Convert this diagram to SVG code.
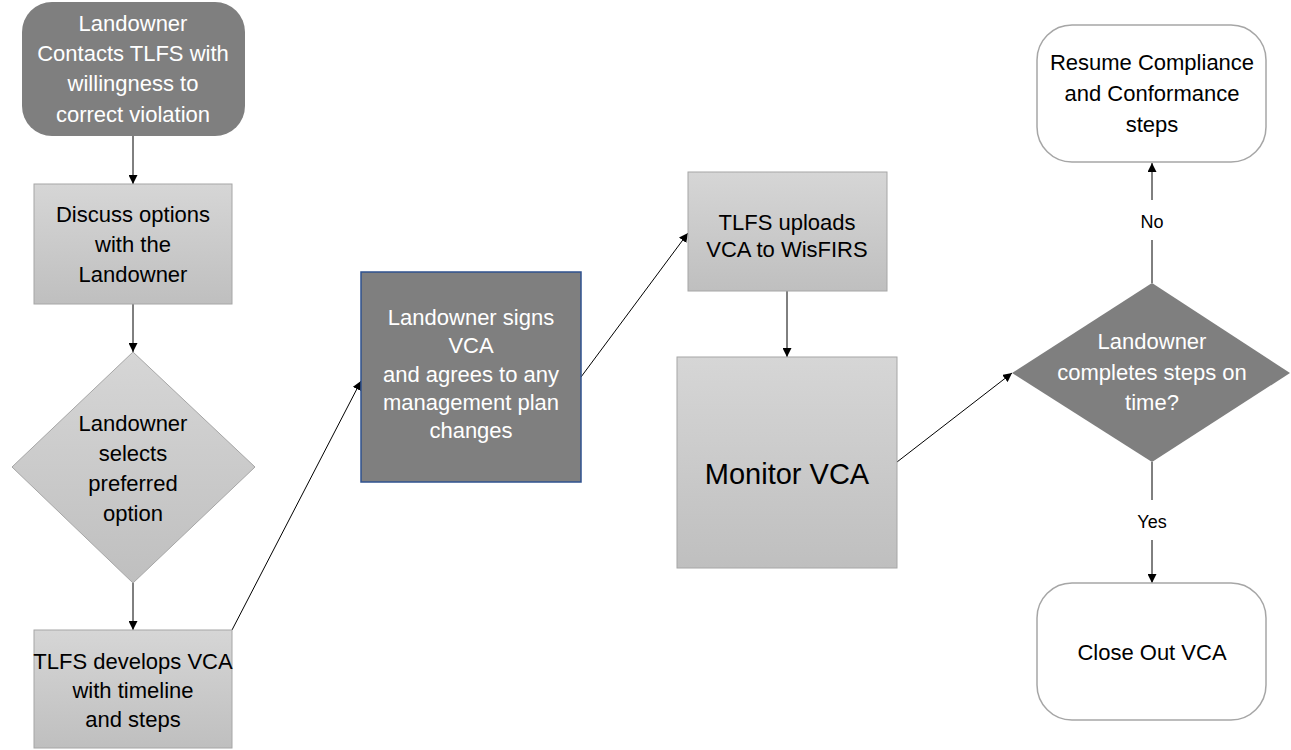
<svg xmlns="http://www.w3.org/2000/svg" width="1291" height="750" viewBox="0 0 1291 750">
<style>
text{font-family:"Liberation Sans",Arial,sans-serif;font-size:22px;text-anchor:middle}
.w{fill:#ffffff}
.k{fill:#000000}
.lite{fill:url(#g);stroke:#a6a6a6;stroke-width:1}
.dark{fill:#7f7f7f}
.outl{fill:#ffffff;stroke:#a6a6a6;stroke-width:1.5}
.c{fill:none;stroke:#000000;stroke-width:1}
.ca{fill:none;stroke:#000000;stroke-width:1;marker-end:url(#ah)}
.lbl{font-size:18px}
</style>
<defs>
<linearGradient id="g" x1="0" y1="0" x2="0" y2="1">
<stop offset="0" stop-color="#d6d6d6"/>
<stop offset="1" stop-color="#bfbfbf"/>
</linearGradient>
<marker id="ah" viewBox="0 0 10 10" refX="10" refY="5" markerWidth="9" markerHeight="9" markerUnits="userSpaceOnUse" orient="auto">
<path d="M0,0 L10,5 L0,10 z" fill="#000000"/>
</marker>
</defs>

<g id="connectors">
<line class="ca" x1="133" y1="136" x2="133" y2="184"/>
<line class="ca" x1="133" y1="304" x2="133" y2="352"/>
<line class="ca" x1="133" y1="583" x2="133" y2="630"/>
<line class="ca" x1="232" y1="630" x2="361" y2="381"/>
<line class="ca" x1="581" y1="377" x2="688" y2="233"/>
<line class="ca" x1="787" y1="291" x2="787" y2="357"/>
<line class="ca" x1="897" y1="462" x2="1012" y2="373"/>
<line class="c" x1="1152" y1="283" x2="1152" y2="240"/>
<line class="ca" x1="1152" y1="200" x2="1152" y2="163"/>
<text class="k lbl" x="1152" y="228">No</text>
<line class="c" x1="1152" y1="462" x2="1152" y2="500"/>
<line class="ca" x1="1152" y1="540" x2="1152" y2="583"/>
<text class="k lbl" x="1152" y="528">Yes</text>
</g>

<g id="n1">
<rect class="dark" x="22" y="2" width="223" height="134" rx="30" ry="30"/>
<text class="w" x="133" y="31">Landowner</text>
<text class="w" x="133" y="61">Contacts TLFS with</text>
<text class="w" x="133" y="91">willingness to</text>
<text class="w" x="133" y="122">correct violation</text>
</g>

<g id="n2">
<rect class="lite" x="34" y="184" width="198" height="120"/>
<text class="k" x="133" y="222">Discuss options</text>
<text class="k" x="133" y="252">with the</text>
<text class="k" x="133" y="282">Landowner</text>
</g>

<g id="n3">
<polygon class="lite" points="133,352 255,467 133,583 12,467"/>
<text class="k" x="133" y="431">Landowner</text>
<text class="k" x="133" y="461">selects</text>
<text class="k" x="133" y="491">preferred</text>
<text class="k" x="133" y="521">option</text>
</g>

<g id="n4">
<rect class="lite" x="34" y="630" width="198" height="118"/>
<text class="k" x="133" y="669">TLFS develops VCA</text>
<text class="k" x="133" y="698">with timeline</text>
<text class="k" x="133" y="727">and steps</text>
</g>

<g id="n5">
<rect x="361" y="272" width="220" height="210" fill="#7f7f7f" stroke="#2f528f" stroke-width="1.5"/>
<text class="w" x="471" y="325">Landowner signs</text>
<text class="w" x="471" y="353">VCA</text>
<text class="w" x="471" y="382">and agrees to any</text>
<text class="w" x="471" y="410">management plan</text>
<text class="w" x="471" y="438">changes</text>
</g>

<g id="n6">
<rect class="lite" x="688" y="172" width="199" height="119"/>
<text class="k" x="787" y="230">TLFS uploads</text>
<text class="k" x="787" y="257">VCA to WisFIRS</text>
</g>

<g id="n7">
<rect class="lite" x="677" y="357" width="220" height="211"/>
<text class="k" x="787" y="484" style="font-size:29px">Monitor VCA</text>
</g>

<g id="n8">
<polygon class="dark" points="1152,283 1290,373 1152,462 1012,373"/>
<text class="w" x="1152" y="349">Landowner</text>
<text class="w" x="1152" y="380">completes steps on</text>
<text class="w" x="1152" y="410">time?</text>
</g>

<g id="n9">
<rect class="outl" x="1037" y="25" width="229" height="137" rx="35" ry="35"/>
<text class="k" x="1152" y="70">Resume Compliance</text>
<text class="k" x="1152" y="101">and Conformance</text>
<text class="k" x="1152" y="132">steps</text>
</g>

<g id="n10">
<rect class="outl" x="1037" y="583" width="229" height="137" rx="35" ry="35"/>
<text class="k" x="1152" y="660">Close Out VCA</text>
</g>
</svg>
